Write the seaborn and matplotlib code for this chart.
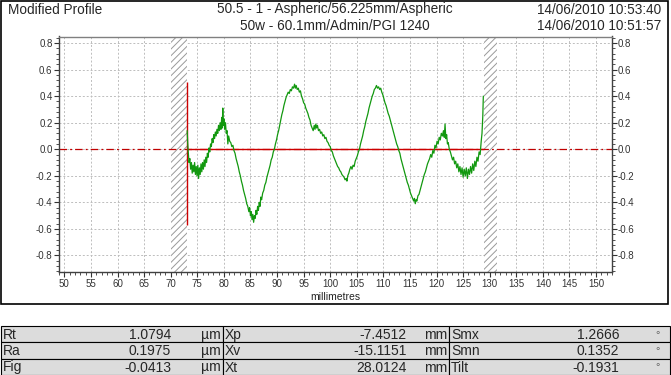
import matplotlib
matplotlib.use("Agg")
import matplotlib.pyplot as plt
from matplotlib.ticker import MultipleLocator, FormatStrFormatter
from matplotlib.patches import Rectangle
import seaborn as sns

# header
title_left = "Modified Profile"
title_center = ["50.5 - 1 - Aspheric/56.225mm/Aspheric", "50w - 60.1mm/Admin/PGI 1240"]
timestamps = ["14/06/2010 10:53:40", "14/06/2010 10:51:57"]

profile_x = [
    73.10, 73.20, 73.30, 73.45, 73.60, 73.75, 73.90, 74.05, 74.20, 74.35,
    74.50, 74.65, 74.80, 74.95, 75.10, 75.25, 75.40, 75.55, 75.70, 75.85,
    76.00, 76.15, 76.30, 76.45, 76.60, 76.75, 76.90, 77.05, 77.20, 77.35,
    77.50, 77.65, 77.80, 77.95, 78.10, 78.25, 78.40, 78.55, 78.70, 78.85,
    79.00, 79.15, 79.30, 79.45, 79.60, 79.70, 79.80, 79.90, 80.00, 80.15,
    80.30, 80.45, 80.60, 80.75, 80.90, 81.10, 81.30, 81.50, 81.70, 81.90,
    82.10, 82.30, 82.50, 82.70, 82.90, 83.10, 83.30, 83.50, 83.70, 83.90,
    84.10, 84.30, 84.50, 84.70, 84.85, 85.00, 85.15, 85.30, 85.45, 85.60,
    85.75, 85.90, 86.05, 86.20, 86.35, 86.50, 86.65, 86.80, 86.95, 87.10,
    87.30, 87.50, 87.70, 87.90, 88.10, 88.30, 88.50, 88.70, 88.90, 89.10,
    89.30, 89.50, 89.70, 89.90, 90.10, 90.30, 90.50, 90.70, 90.90, 91.10,
    91.30, 91.50, 91.70, 91.90, 92.10, 92.30, 92.50, 92.70, 92.90, 93.10,
    93.30, 93.45, 93.60, 93.80, 94.00, 94.20, 94.40, 94.60, 94.80, 95.00,
    95.20, 95.40, 95.60, 95.80, 96.00, 96.20, 96.40, 96.60, 96.80, 97.00,
    97.15, 97.30, 97.45, 97.60, 97.80, 98.00, 98.20, 98.40, 98.60, 98.80,
    99.00, 99.20, 99.40, 99.60, 99.80, 100.00, 100.20, 100.40, 100.60, 100.80,
    101.00, 101.20, 101.40, 101.60, 101.80, 102.00, 102.20, 102.40, 102.60, 102.80,
    103.00, 103.15, 103.30, 103.50, 103.70, 103.90, 104.10, 104.30, 104.50, 104.70,
    104.90, 105.10, 105.30, 105.50, 105.70, 105.90, 106.10, 106.30, 106.50, 106.70,
    106.90, 107.10, 107.30, 107.50, 107.70, 107.90, 108.10, 108.30, 108.50, 108.70,
    108.90, 109.10, 109.30, 109.50, 109.70, 109.90, 110.10, 110.30, 110.50, 110.70,
    110.90, 111.10, 111.30, 111.50, 111.70, 111.90, 112.10, 112.30, 112.50, 112.70,
    112.90, 113.10, 113.30, 113.50, 113.70, 113.90, 114.10, 114.30, 114.50, 114.70,
    114.90, 115.10, 115.30, 115.50, 115.70, 115.85, 116.00, 116.15, 116.30, 116.50,
    116.70, 116.90, 117.10, 117.30, 117.50, 117.70, 117.90, 118.10, 118.30, 118.50,
    118.70, 118.90, 119.10, 119.30, 119.50, 119.70, 119.90, 120.10, 120.30, 120.50,
    120.70, 120.90, 121.10, 121.30, 121.45, 121.60, 121.75, 121.90, 122.05, 122.20,
    122.40, 122.60, 122.80, 123.00, 123.20, 123.40, 123.60, 123.80, 124.00, 124.20,
    124.40, 124.60, 124.80, 125.00, 125.20, 125.40, 125.60, 125.80, 126.00, 126.20,
    126.40, 126.60, 126.80, 127.00, 127.20, 127.40, 127.60, 127.80, 128.00, 128.20,
    128.40, 128.55, 128.70, 128.80,
]
profile_y = [
    0.14, 0.05, -0.02, -0.10, -0.07, -0.15, -0.10, -0.18, -0.12, -0.17,
    -0.10, -0.19, -0.13, -0.20, -0.12, -0.22, -0.14, -0.19, -0.11, -0.17,
    -0.10, -0.15, -0.08, -0.13, -0.06, -0.10, -0.03, -0.06, 0.01, -0.02,
    0.04, 0.02, 0.08, 0.05, 0.11, 0.08, 0.13, 0.10, 0.15, 0.12,
    0.18, 0.14, 0.20, 0.15, 0.24, 0.16, 0.31, 0.18, 0.23, 0.15,
    0.20, 0.12, 0.14, 0.04, 0.10, 0.06, 0.05, 0.02, 0.03, -0.01,
    -0.03, -0.07, -0.10, -0.13, -0.17, -0.20, -0.24, -0.27, -0.31, -0.34,
    -0.37, -0.41, -0.43, -0.47, -0.44, -0.50, -0.47, -0.53, -0.49, -0.55,
    -0.50, -0.52, -0.46, -0.49, -0.43, -0.46, -0.40, -0.43, -0.36, -0.38,
    -0.33, -0.31, -0.27, -0.25, -0.21, -0.18, -0.15, -0.12, -0.08, -0.06,
    -0.02, 0.00, 0.04, 0.07, 0.11, 0.14, 0.18, 0.22, 0.26, 0.29,
    0.33, 0.36, 0.39, 0.41, 0.43, 0.42, 0.45, 0.44, 0.47, 0.46,
    0.49, 0.46, 0.48, 0.45, 0.46, 0.43, 0.44, 0.40, 0.38, 0.35,
    0.34, 0.31, 0.29, 0.27, 0.24, 0.22, 0.18, 0.16, 0.14, 0.18,
    0.15, 0.19, 0.16, 0.18, 0.14, 0.15, 0.12, 0.13, 0.10, 0.11,
    0.08, 0.09, 0.06, 0.05, 0.03, 0.02, -0.01, -0.02, -0.05, -0.07,
    -0.09, -0.11, -0.13, -0.14, -0.16, -0.17, -0.19, -0.20, -0.21, -0.23,
    -0.22, -0.24, -0.20, -0.18, -0.15, -0.13, -0.15, -0.12, -0.13, -0.09,
    -0.07, -0.05, -0.02, 0.00, 0.04, 0.07, 0.10, 0.14, 0.17, 0.21,
    0.24, 0.27, 0.31, 0.34, 0.37, 0.40, 0.42, 0.45, 0.46, 0.48,
    0.46, 0.47, 0.45, 0.46, 0.43, 0.41, 0.38, 0.35, 0.33, 0.30,
    0.27, 0.25, 0.22, 0.19, 0.16, 0.13, 0.10, 0.07, 0.04, 0.02,
    -0.01, -0.03, -0.07, -0.10, -0.13, -0.16, -0.19, -0.22, -0.25, -0.27,
    -0.30, -0.33, -0.35, -0.37, -0.39, -0.37, -0.41, -0.38, -0.39, -0.35,
    -0.34, -0.31, -0.28, -0.25, -0.22, -0.19, -0.17, -0.14, -0.11, -0.09,
    -0.07, -0.04, -0.06, -0.01, -0.03, 0.03, 0.01, 0.06, 0.04, 0.09,
    0.07, 0.12, 0.10, 0.14, 0.09, 0.19, 0.08, 0.11, 0.04, 0.05,
    0.00, -0.02, -0.05, -0.08, -0.06, -0.11, -0.09, -0.14, -0.11, -0.17,
    -0.13, -0.19, -0.14, -0.21, -0.15, -0.20, -0.14, -0.22, -0.15, -0.19,
    -0.13, -0.18, -0.11, -0.16, -0.09, -0.13, -0.06, -0.09, -0.02, -0.04,
    0.06, 0.12, 0.25, 0.40,
]

# evaluation window and excluded end zones
eval_start = 73.1
eval_end = 129.0
marker_top = 0.51
marker_bottom = -0.57
excluded_zones = [(70.0, 73.1), (129.0, 131.4)]

# results table
param_names = [["Rt", "Ra", "Fig"], ["Xp", "Xv", "Xt"], ["Smx", "Smn", "Tilt"]]
param_values = [["1.0794", "0.1975", "-0.0413"],
                ["-7.4512", "-15.1151", "28.0124"],
                ["1.2666", "0.1352", "-0.1931"]]
param_units = ["µm", "mm", "°"]

sns.set_style("white")
plt.rcParams['font.family'] = ['Liberation Sans', 'DejaVu Sans']
plt.rcParams['axes.unicode_minus'] = False
plt.rcParams['hatch.linewidth'] = 0.7

W, H = 671, 375
fig = plt.figure(figsize=(W / 100, H / 100), dpi=100)

# overlay in pixel coords for frame, header and table
ov = fig.add_axes([0, 0, 1, 1])
ov.set_xlim(0, W)
ov.set_ylim(H, 0)
ov.axis("off")

ov.add_patch(Rectangle((1, 1), 666.5, 303, fill=False, edgecolor="black", lw=1.2))
ov.text(8, 9.5, title_left, ha="left", va="center", fontsize=9.8)
for i, line in enumerate(title_center):
    ov.text(335, 9.5 + 17 * i, line, ha="center", va="center", fontsize=9.8)
for i, ts in enumerate(timestamps):
    ov.text(661, 9.5 + 17 * i, ts, ha="right", va="center", fontsize=9.8)

col_left = [1, 223, 449, 670]
value_right = [171, 407, 619]
unit_right = [221, 447, 660]
row_top, row_h = 326, 16.4
for c in range(3):
    for r in range(3):
        y0 = row_top + r * row_h
        ov.add_patch(Rectangle((col_left[c], y0), col_left[c + 1] - col_left[c], row_h,
                               facecolor="#dcdcdc", edgecolor="black", lw=0.8))
        yc = y0 + row_h / 2 + 0.5
        ov.text(col_left[c] + 2, yc, param_names[c][r], ha="left", va="center", fontsize=10)
        ov.text(value_right[c], yc, param_values[c][r], ha="right", va="center", fontsize=10)
        if param_units[c] == "°":
            ov.text(unit_right[c], yc, param_units[c], ha="right", va="center",
                    fontsize=8, color="#666666")
        else:
            ov.text(unit_right[c], yc, param_units[c], ha="right", va="center", fontsize=10)

# profile axes
ax = fig.add_axes([58.5 / W, (H - 271.7) / H, (612 - 58.5) / W, (271.7 - 36.5) / H])
ax.set_axisbelow(True)

for x0, x1 in excluded_zones:
    ax.axvspan(x0, x1, facecolor="white", edgecolor="#9a9a9a", hatch="/////", lw=0, zorder=1)

ax.axhline(0, color="#c00000", lw=0.9, linestyle=(0, (6, 2.5, 1.5, 2.5)), zorder=2)
ax.hlines(0, eval_start, eval_end, color="#cc0000", lw=1.0, zorder=2.5)
ax.vlines(eval_start, marker_bottom, marker_top, color="#cc0000", lw=1.0, zorder=2.5)

sns.lineplot(x=profile_x, y=profile_y, ax=ax, color="#12980f", lw=0.9,
             estimator=None, sort=False, zorder=3)

ax.set_xlim(48.9, 153.0)
ax.set_ylim(-0.922, 0.849)
ax.xaxis.set_major_locator(MultipleLocator(5))
ax.xaxis.set_minor_locator(MultipleLocator(1))
ax.yaxis.set_major_locator(MultipleLocator(0.2))
ax.yaxis.set_minor_locator(MultipleLocator(0.04))
ax.yaxis.set_major_formatter(FormatStrFormatter("%.1f"))

ax.grid(True, which="major", color="#bdbdbd", lw=0.7, linestyle=(0, (2, 2)))
ax.tick_params(axis="both", which="both", direction="out", colors="#333333",
               labelsize=7, labelcolor="#333333")
ax.tick_params(axis="x", which="major", length=3.5, pad=1.8, bottom=True, top=False)
ax.tick_params(axis="x", which="minor", length=2, bottom=True, top=False)
ax.tick_params(axis="y", which="major", length=3.5, pad=0.8, left=True, right=True,
               labelleft=True, labelright=True)
ax.tick_params(axis="y", which="minor", length=2, left=True, right=True)

for side in ["left", "bottom", "right"]:
    ax.spines[side].set_color("#404040")
    ax.spines[side].set_linewidth(1.0)
ax.spines["top"].set_color("#808080")
ax.spines["top"].set_linewidth(1.0)

ax.set_xlabel("millimetres", fontsize=7.5, labelpad=2, color="#222222")
ax.set_ylabel("")

fig.savefig("out.png", dpi=100)
